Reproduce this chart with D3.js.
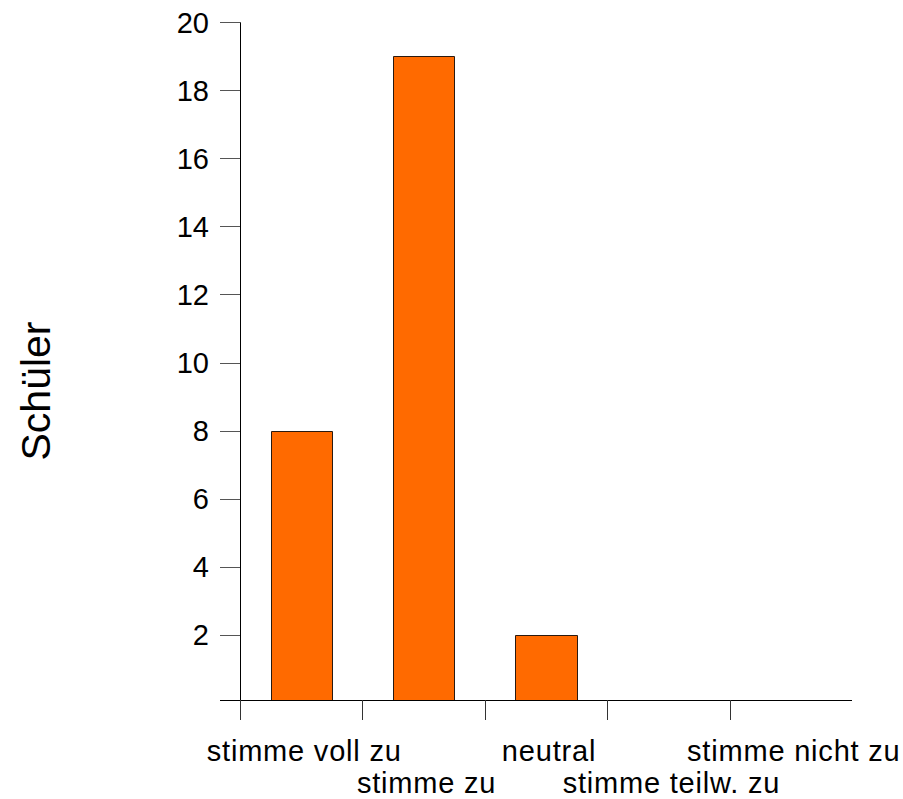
<!DOCTYPE html>
<html><head><meta charset="utf-8">
<script src="https://cdn.jsdelivr.net/npm/d3@7"></script>
<style>body{margin:0;background:#fff}svg{display:block}text{font-family:"Liberation Sans",Arial,sans-serif}</style>
</head><body><svg id="c" width="903" height="799"></svg>
<script>
const categories = ["stimme voll zu","stimme zu","neutral","stimme teilw. zu","stimme nicht zu"];
const values = [8,19,2,0,0];
const yTicks = [2,4,6,8,10,12,14,16,18,20];
const yLabel = "Schüler";

const svg = d3.select("#c");
const pLeft = 240, pRight = 852, pTop = 22.3, pBottom = 700;
const x = d3.scaleBand().domain(categories).range([pLeft,pRight]).paddingInner(0.5).paddingOuter(0.25);
const y = d3.scaleLinear().domain([0,20]).range([702.7, pTop]);

// bars
svg.append("g").selectAll("path").data(values).join("path")
  .attr("d",(d,i)=>{const x0=Math.round(x(categories[i]))+0.5,x1=Math.round(x(categories[i])+x.bandwidth())+0.5,y0=Math.round(y(d))+0.5;
     return `M${x0},${pBottom+0.5}V${d>0?y0:pBottom+0.5}H${x1}V${pBottom+0.5}`;})
  .attr("fill","#FF6A00").attr("stroke","#2a1a10").attr("stroke-width",1);

// y ticks
const yt = svg.append("g");
yt.selectAll("line").data(yTicks).join("line")
  .attr("x1",220).attr("x2",pLeft).attr("y1",d=>Math.round(y(d))+0.5).attr("y2",d=>Math.round(y(d))+0.5)
  .attr("stroke","#555");
yt.selectAll("text").data(yTicks).join("text")
  .attr("x",209).attr("y",d=>y(d)).attr("dy","0.36em").attr("text-anchor","end")
  .attr("font-size",29).attr("fill","#000").text(d=>d);

// axes lines
svg.append("line").attr("x1",pLeft+0.5).attr("x2",pLeft+0.5).attr("y1",pTop).attr("y2",pBottom+20).attr("stroke","#000");
svg.append("line").attr("x1",220).attr("x2",pRight).attr("y1",pBottom+0.5).attr("y2",pBottom+0.5).attr("stroke","#000");

// x ticks at band boundaries
const bounds = categories.map(c=>x(c)-x.step()*x.paddingInner()/2);
bounds[0]=pLeft;
svg.append("g").selectAll("line").data(bounds).join("line")
  .attr("x1",d=>Math.round(d)+0.5).attr("x2",d=>Math.round(d)+0.5).attr("y1",pBottom).attr("y2",pBottom+20)
  .attr("stroke","#333");

// x labels, alternating rows
svg.append("g").selectAll("text").data(categories).join("text")
  .attr("x",d=>x(d)+x.bandwidth()/2+3).attr("y",(d,i)=>i%2===0?761:793)
  .attr("text-anchor","middle").attr("font-size",29).attr("letter-spacing","0.8px").attr("fill","#000").text(d=>d);

// y label
svg.append("text").attr("transform","translate(50,391) rotate(-90)")
  .attr("text-anchor","middle").attr("font-size",41).attr("fill","#000").text(yLabel);
</script></body></html>
